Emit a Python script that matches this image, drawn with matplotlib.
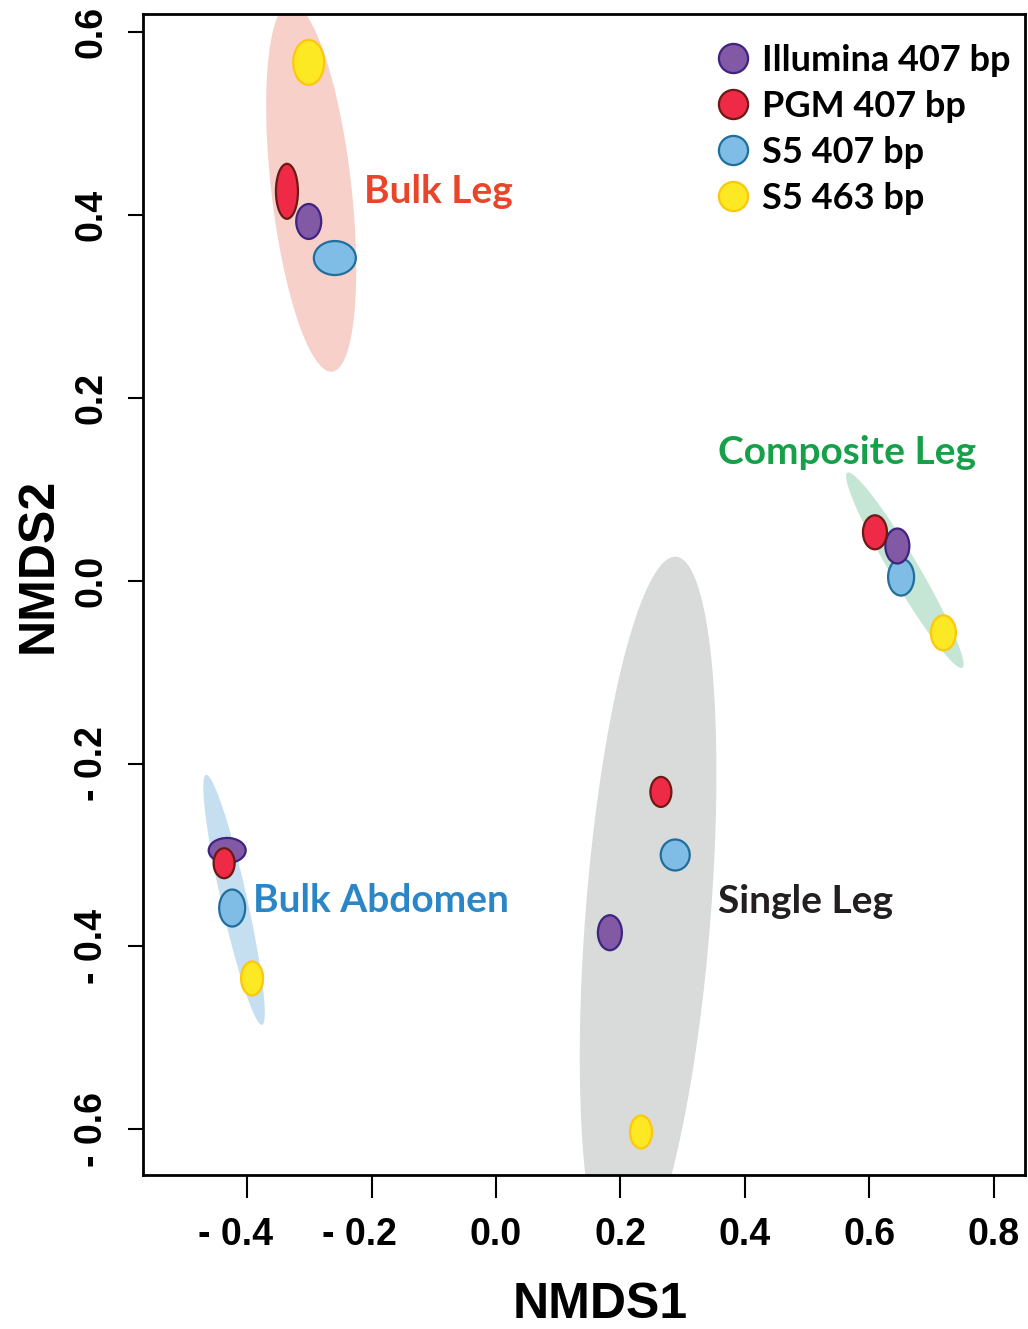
import numpy as np
import matplotlib.pyplot as plt
from matplotlib.collections import EllipseCollection
from matplotlib.lines import Line2D
from matplotlib.transforms import ScaledTranslation

# groups: Bulk Leg, Composite Leg, Single Leg, Bulk Abdomen
groups = ['Bulk Leg', 'Composite Leg', 'Single Leg', 'Bulk Abdomen']
series = ['Illumina 407 bp', 'PGM 407 bp', 'S5 407 bp', 'S5 463 bp']

illumina_x = [-0.301, 0.645, 0.183, -0.432]
illumina_y = [0.393, 0.038, -0.385, -0.295]
pgm_x = [-0.336, 0.609, 0.265, -0.437]
pgm_y = [0.426, 0.053, -0.231, -0.309]
s5_407_x = [-0.259, 0.651, 0.288, -0.424]
s5_407_y = [0.353, 0.004, -0.300, -0.358]
s5_463_x = [-0.301, 0.719, 0.233, -0.392]
s5_463_y = [0.567, -0.057, -0.603, -0.435]

# group ellipses: centre, major semi-axis vector, minor semi-axis vector
ell_cx = [-0.297, 0.657, 0.2444, -0.421]
ell_cy = [0.430, 0.0115, -0.3654, -0.349]
ell_ux = [0.0338, 0.0924, -0.0450, 0.045]
ell_uy = [-0.2013, -0.1067, -0.3917, -0.1368]
ell_vx = [0.0640, 0.0194, 0.1002, 0.0204]
ell_vy = [0.0050, 0.0078, -0.0053, 0.0031]

xticks = [-0.4, -0.2, 0.0, 0.2, 0.4, 0.6, 0.8]
xticklabels = ['- 0.4', '- 0.2', '0.0', '0.2', '0.4', '0.6', '0.8']
yticks = [-0.6, -0.4, -0.2, 0.0, 0.2, 0.4, 0.6]
yticklabels = ['- 0.6', '- 0.4', '- 0.2', '0.0', '0.2', '0.4', '0.6']

# styles
ell_fill = ['#F7D0CA', '#C5E6D4', '#D9DBDB', '#C6DFF0']
grp_color = ['#E8452A', '#16A04A', '#231F20', '#2B86C8']
grp_lab_x = [-0.212, 0.357, 0.357, -0.391]
grp_lab_y = [0.426, 0.140, -0.351, -0.350]
fills = {'Illumina 407 bp': '#8159A5', 'PGM 407 bp': '#EE2A47',
         'S5 407 bp': '#7FBCE6', 'S5 463 bp': '#FCE823'}
edges = {'Illumina 407 bp': '#3F2380', 'PGM 407 bp': '#6B1A14',
         'S5 407 bp': '#1F6E9C', 'S5 463 bp': '#FDC70E'}
# marker sizes in pixels (width, height) per group
mw = {'Illumina 407 bp': [25, 24, 24, 37], 'PGM 407 bp': [22, 24, 21, 21],
      'S5 407 bp': [42, 26, 29, 26], 'S5 463 bp': [31, 25, 22, 22]}
mh = {'Illumina 407 bp': [35, 35, 35, 25], 'PGM 407 bp': [55, 34, 30, 30],
      'S5 407 bp': [34, 37, 31, 37], 'S5 463 bp': [45, 35, 33, 34]}

pts = {'Illumina 407 bp': (illumina_x, illumina_y), 'PGM 407 bp': (pgm_x, pgm_y),
       'S5 407 bp': (s5_407_x, s5_407_y), 'S5 463 bp': (s5_463_x, s5_463_y)}

fig = plt.figure(figsize=(10.28, 13.29), dpi=100)
ax = fig.add_axes([0.139, 0.1159, 0.858, 0.8736])
ax.set_xlim(-0.5675, 0.850)
ax.set_ylim(-0.650, 0.620)

t = np.linspace(0, 2 * np.pi, 300)
for i in range(4):
    ex = ell_cx[i] + ell_ux[i] * np.cos(t) + ell_vx[i] * np.sin(t)
    ey = ell_cy[i] + ell_uy[i] * np.cos(t) + ell_vy[i] * np.sin(t)
    ax.fill(ex, ey, color=ell_fill[i], lw=0, zorder=1)

for s in ['S5 407 bp', 'S5 463 bp', 'Illumina 407 bp', 'PGM 407 bp']:
    x, y = pts[s]
    ec = EllipseCollection(mw[s], mh[s], np.zeros(4), units='dots',
                           offsets=np.column_stack([x, y]),
                           offset_transform=ax.transData,
                           facecolors=fills[s], edgecolors=edges[s],
                           linewidths=1.6, zorder=3)
    ax.add_collection(ec)

for i, g in enumerate(groups):
    ax.text(grp_lab_x[i], grp_lab_y[i], g, color=grp_color[i], fontsize=28,
            fontweight='bold', family='Lato', ha='left', va='center')

handles = [Line2D([], [], ls='none', marker='o', markersize=21, mfc=fills[s],
                  mec=edges[s], mew=1.6) for s in series]
leg = ax.legend(handles, series, loc='upper right', frameon=False,
                bbox_to_anchor=(1.004, 0.99), handletextpad=0.35,
                labelspacing=0.36, handlelength=0.9, borderaxespad=0.1,
                prop={'family': 'Lato', 'weight': 'bold', 'size': 26})

ax.set_xticks(xticks)
ax.set_xticklabels(xticklabels)
ax.set_yticks(yticks)
ax.set_yticklabels(yticklabels, rotation=90, va='center')
ax.tick_params(axis='x', length=16.5, width=1.5, pad=14)
ax.tick_params(axis='y', length=11, width=1.5, pad=13)
for lab in ax.get_xticklabels() + ax.get_yticklabels():
    lab.set_family('Liberation Sans')
    lab.set_fontweight('bold')
    lab.set_fontsize(27)
# keep the digits of negative x labels centred on the tick
shift = ScaledTranslation(-0.12, 0, fig.dpi_scale_trans)
for lab in ax.get_xticklabels():
    if lab.get_text().startswith('-'):
        lab.set_transform(lab.get_transform() + shift)
for sp in ax.spines.values():
    sp.set_linewidth(2)

ax.set_xlabel('NMDS1', fontsize=36, fontweight='bold', family='Liberation Sans', va='center')
ax.set_ylabel('NMDS2', fontsize=36, fontweight='bold', family='Liberation Sans', va='center')
ax.xaxis.set_label_coords(0.518, -0.112)
ax.yaxis.set_label_coords(-0.118, 0.525)

plt.savefig('out.png', dpi=100)
